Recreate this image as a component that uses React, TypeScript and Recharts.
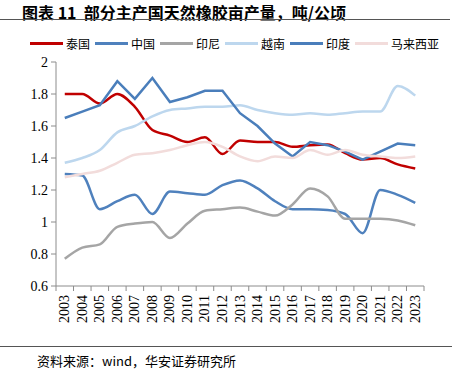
import { LineChart, Line, XAxis, YAxis } from 'recharts'

const years = ['2003', '2004', '2005', '2006', '2007', '2008', '2009', '2010', '2011', '2012', '2013', '2014', '2015', '2016', '2017', '2018', '2019', '2020', '2021', '2022', '2023']

const thailand = [1.80, 1.80, 1.74, 1.80, 1.72, 1.575, 1.54, 1.50, 1.53, 1.425, 1.51, 1.50, 1.50, 1.47, 1.48, 1.485, 1.43, 1.39, 1.40, 1.36, 1.335]
const china = [1.30, 1.29, 1.08, 1.13, 1.17, 1.05, 1.19, 1.18, 1.17, 1.23, 1.26, 1.21, 1.13, 1.08, 1.08, 1.075, 1.05, 0.93, 1.20, 1.17, 1.12]
const indonesia = [0.77, 0.84, 0.86, 0.97, 0.99, 1.00, 0.90, 0.99, 1.07, 1.08, 1.09, 1.065, 1.04, 1.11, 1.21, 1.16, 1.02, 1.02, 1.02, 1.01, 0.98]
const vietnam = [1.37, 1.40, 1.45, 1.56, 1.60, 1.66, 1.70, 1.71, 1.72, 1.72, 1.73, 1.70, 1.68, 1.67, 1.68, 1.67, 1.68, 1.69, 1.69, 1.85, 1.79]
const india = [1.65, 1.69, 1.73, 1.88, 1.77, 1.90, 1.75, 1.78, 1.82, 1.82, 1.68, 1.60, 1.49, 1.41, 1.50, 1.48, 1.44, 1.39, 1.44, 1.49, 1.48]
const malaysia = [1.28, 1.30, 1.32, 1.37, 1.42, 1.43, 1.45, 1.48, 1.50, 1.47, 1.41, 1.38, 1.41, 1.40, 1.45, 1.42, 1.45, 1.42, 1.41, 1.40, 1.41]

const yTicks = [0.6, 0.8, 1, 1.2, 1.4, 1.6, 1.8, 2]

// 系列：名称、数据、颜色、线型
const series = [
  { key: 'thailand', name: '泰国', color: '#c00000', type: 'monotone' },
  { key: 'china', name: '中国', color: '#4f81bd', type: 'monotone' },
  { key: 'indonesia', name: '印尼', color: '#a5a5a5', type: 'monotone' },
  { key: 'vietnam', name: '越南', color: '#bdd7ee', type: 'monotone' },
  { key: 'india', name: '印度', color: '#4a7ebb', type: 'linear' },
  { key: 'malaysia', name: '马来西亚', color: '#f2dcdb', type: 'monotone' },
] as const

const data = years.map((year, i) => ({
  idx: i,
  year,
  thailand: thailand[i],
  china: china[i],
  indonesia: indonesia[i],
  vietnam: vietnam[i],
  india: india[i],
  malaysia: malaysia[i],
}))

// 刻度线在类别边界，标签在类别中间
const xTicks: number[] = []
for (let i = 0; i <= years.length; i++) {
  xTicks.push(i - 0.5)
  if (i < years.length) xTicks.push(i)
}

const axisColor = '#8c8c8c'
const serif = '"Liberation Serif", "Times New Roman", serif'
const cjk = '"Noto Sans CJK SC", sans-serif'

function renderXTick(props: any) {
  const { x, y, payload } = props
  const v = payload.value
  if (!Number.isInteger(v)) {
    return <line x1={x} y1={y} x2={x} y2={y + 5} stroke={axisColor} strokeWidth={1} />
  }
  const ty = y + 9
  return (
    <text
      x={x}
      y={ty}
      transform={`rotate(-90, ${x}, ${ty})`}
      textAnchor="end"
      dominantBaseline="central"
      fontFamily={serif}
      fontSize={14}
      fill="#000"
    >
      {years[v]}
    </text>
  )
}

export default function App() {
  return (
    <div style={{ position: 'absolute', left: 0, top: 0, width: 452, height: 384, background: '#fff', overflow: 'hidden' }}>
      <div style={{ position: 'absolute', left: 22, top: 0, fontFamily: cjk, fontWeight: 700, fontSize: 16, color: '#000', whiteSpace: 'nowrap' }}>
        图表 11&nbsp;&nbsp;部分主产国天然橡胶亩产量，吨/公顷
      </div>
      <div style={{ position: 'absolute', left: 0, top: 19, width: 450, height: 1, background: '#555' }} />

      <div style={{ position: 'absolute', left: 30, top: 35, display: 'flex', alignItems: 'center', fontFamily: cjk, fontSize: 12, color: '#000', whiteSpace: 'nowrap' }}>
        {series.map((s) => (
          <div key={s.key} style={{ display: 'flex', alignItems: 'center', marginRight: 5 }}>
            <div style={{ width: 33, height: 3, background: s.color, marginRight: 3 }} />
            <span>{s.name}</span>
          </div>
        ))}
      </div>

      <LineChart width={452} height={384} data={data} margin={{ top: 62, right: 28, bottom: 58, left: 6 }}>
        <XAxis
          type="number"
          dataKey="idx"
          domain={[-0.5, years.length - 0.5]}
          ticks={xTicks}
          interval={0}
          tickSize={0}
          tickMargin={0}
          height={40}
          tick={renderXTick}
          axisLine={{ stroke: axisColor }}
        />
        <YAxis
          domain={[0.6, 2]}
          ticks={yTicks}
          interval={0}
          width={50}
          tickSize={5}
          tickMargin={3}
          tickFormatter={(v: number) => String(Number(v.toFixed(1)))}
          tick={{ fontFamily: serif, fontSize: 14, fill: '#000' }}
          axisLine={{ stroke: axisColor }}
          tickLine={{ stroke: axisColor }}
        />
        {series.map((s) => (
          <Line
            key={s.key}
            dataKey={s.key}
            name={s.name}
            type={s.type}
            stroke={s.color}
            strokeWidth={2.5}
            dot={false}
            activeDot={false}
            isAnimationActive={false}
          />
        ))}
      </LineChart>

      <div style={{ position: 'absolute', left: 0, top: 346, width: 452, height: 1, background: '#555' }} />
      <div style={{ position: 'absolute', left: 37, top: 351, fontFamily: cjk, fontSize: 13, color: '#000', whiteSpace: 'nowrap' }}>
        资料来源：wind，华安证券研究所
      </div>
    </div>
  )
}
